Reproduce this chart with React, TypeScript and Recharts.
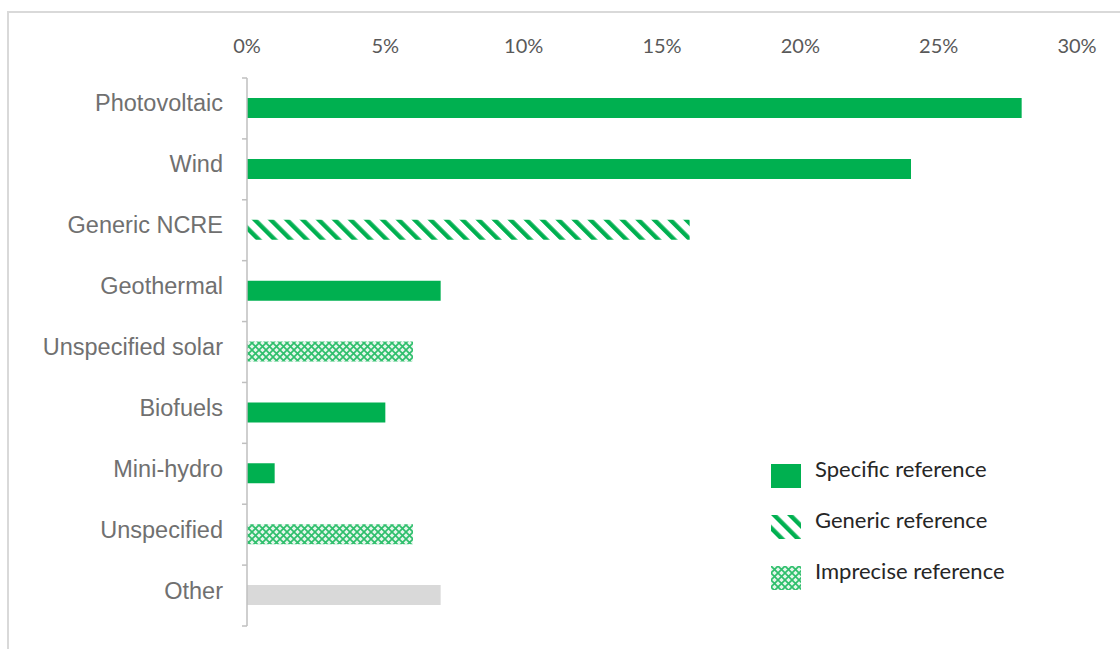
import React from "react";
import { BarChart, Bar, XAxis, YAxis, Cell, Legend } from "recharts";

const categories = [
  "Photovoltaic",
  "Wind",
  "Generic NCRE",
  "Geothermal",
  "Unspecified solar",
  "Biofuels",
  "Mini-hydro",
  "Unspecified",
  "Other",
];
const shares = [28, 24, 16, 7, 6, 5, 1, 6, 7];
const refTypes = [
  "specific",
  "specific",
  "generic",
  "specific",
  "imprecise",
  "specific",
  "specific",
  "imprecise",
  "other",
];
const xTicks = [0, 5, 10, 15, 20, 25, 30];
const legendTypes = ["specific", "generic", "imprecise"];
const legendLabels = ["Specific reference", "Generic reference", "Imprecise reference"];

const GREEN = "#00b050";
const fills: Record<string, string> = {
  specific: GREEN,
  generic: "url(#genericPattern)",
  imprecise: "url(#imprecisePattern)",
  other: "#d9d9d9",
};

const data = categories.map((name, i) => ({ name, value: shares[i], type: refTypes[i] }));

const PatternDefs = ({ suffix = "" }: { suffix?: string }) => (
  <defs>
    <pattern
      id={"genericPattern" + suffix}
      patternUnits="userSpaceOnUse"
      width="11.3"
      height="11.3"
      patternTransform="rotate(-45)"
    >
      <rect x="0" y="0" width="4.4" height="11.3" fill={GREEN} />
    </pattern>
    <pattern id={"imprecisePattern" + suffix} patternUnits="userSpaceOnUse" width="7" height="7">
      <rect x="0" y="0" width="7" height="7" fill="#e6f6ec" />
      <path d="M0,0 L7,7 M7,0 L0,7" stroke="#2fbf6c" strokeWidth="1.7" />
    </pattern>
  </defs>
);

const YTick = (props: any) => {
  const { x, y, payload, index, height, visibleTicksCount } = props;
  const band = height / visibleTicksCount;
  const axisX = x + 8;
  return (
    <g>
      <line x1={axisX - 5} x2={axisX} y1={y - band / 2} y2={y - band / 2} stroke="#bfbfbf" strokeWidth={1.5} />
      {index === visibleTicksCount - 1 && (
        <line x1={axisX - 5} x2={axisX} y1={y + band / 2} y2={y + band / 2} stroke="#bfbfbf" strokeWidth={1.5} />
      )}
      <text
        x={axisX - 24}
        y={y - 5}
        textAnchor="end"
        dominantBaseline="central"
        fill="#707070"
        fontSize={23.5}
        fontFamily="'Liberation Sans', Arial, sans-serif"
      >
        {payload.value}
      </text>
    </g>
  );
};

const LegendContent = () => (
  <div style={{ fontFamily: "Lato, sans-serif", fontSize: 22, color: "#262626" }}>
    {legendTypes.map((t, i) => (
      <div key={t} style={{ display: "flex", alignItems: "center", height: 51 }}>
        <svg width={30} height={24} style={{ display: "block" }}>
          <PatternDefs suffix={"L" + i} />
          <rect
            width={30}
            height={24}
            fill={t === "specific" ? GREEN : `url(#${t === "generic" ? "genericPattern" : "imprecisePattern"}L${i})`}
          />
        </svg>
        <span style={{ marginLeft: 14, marginTop: -14 }}>{legendLabels[i]}</span>
      </div>
    ))}
  </div>
);

export default function App() {
  return (
    <div
      style={{
        position: "fixed",
        left: 0,
        top: 0,
        width: 1120,
        height: 649,
        background: "#ffffff",
        overflow: "hidden",
      }}
    >
      <svg width={0} height={0} style={{ position: "absolute" }}>
        <PatternDefs />
      </svg>
      <div
        style={{
          position: "absolute",
          left: 7,
          top: 11,
          width: 1130,
          height: 660,
          borderTop: "2px solid #d9d9d9",
          borderLeft: "2px solid #d9d9d9",
        }}
      />
      <div style={{ position: "absolute", left: 0, top: 0 }}>
        <BarChart
          width={1120}
          height={649}
          data={data}
          layout="vertical"
          margin={{ top: 48, right: 43, bottom: 23, left: 0 }}
          barCategoryGap={0}
        >
          <XAxis
            type="number"
            orientation="top"
            domain={[0, 30]}
            ticks={xTicks}
            tickFormatter={(v: number) => `${v}%`}
            axisLine={false}
            tickLine={false}
            tickMargin={19}
            height={30}
            tick={{ fill: "#595959", fontSize: 20, fontFamily: "Lato, sans-serif" }}
            interval={0}
          />
          <YAxis
            type="category"
            dataKey="name"
            width={247}
            axisLine={{ stroke: "#bfbfbf", strokeWidth: 1.5 }}
            tickLine={false}
            tick={<YTick />}
            interval={0}
          />
          <Legend
            layout="vertical"
            verticalAlign="middle"
            align="center"
            content={<LegendContent />}
            wrapperStyle={{ position: "absolute", left: 771, top: 450, width: 320 }}
          />
          <Bar dataKey="value" barSize={20} isAnimationActive={false}>
            {data.map((d, i) => (
              <Cell key={i} fill={fills[d.type]} />
            ))}
          </Bar>
        </BarChart>
      </div>
    </div>
  );
}
